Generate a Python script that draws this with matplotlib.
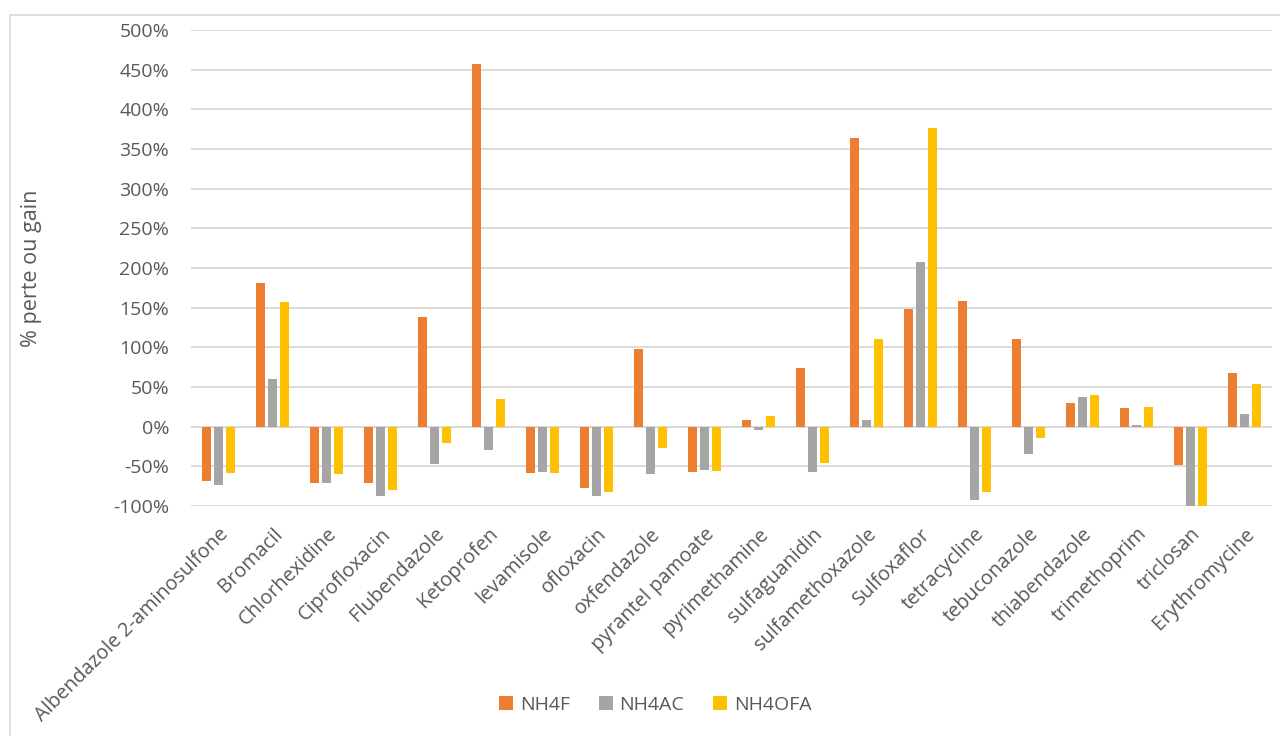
import numpy as np
import matplotlib.pyplot as plt
from matplotlib.patches import Rectangle
from matplotlib.ticker import FuncFormatter, MultipleLocator

plt.rcParams['font.family'] = ['Open Sans', 'DejaVu Sans']

# données (% perte ou gain)
composes = ["Albendazole 2-aminosulfone", "Bromacil", "Chlorhexidine", "Ciprofloxacin",
            "Flubendazole", "Ketoprofen", "levamisole", "ofloxacin", "oxfendazole",
            "pyrantel pamoate", "pyrimethamine", "sulfaguanidin", "sulfamethoxazole",
            "Sulfoxaflor", "tetracycline", "tebuconazole", "thiabendazole",
            "trimethoprim", "triclosan", "Erythromycine"]
nh4f = [-69, 181, -71, -71, 138, 457, -59, -77, 98, -57,
        8, 74, 364, 149, 159, 110, 30, 24, -48, 68]
nh4ac = [-74, 60, -71, -88, -47, -29, -57, -88, -60, -55,
         -4, -57, 9, 208, -92, -35, 38, 2, -100, 16]
nh4ofa = [-58, 157, -60, -80, -21, 35, -59, -82, -27, -56,
          13, -46, 110, 377, -82, -14, 40, 25, -100, 54]
series = ["NH4F", "NH4AC", "NH4OFA"]
couleurs = ["#ED7D31", "#A5A5A5", "#FFC000"]

gris_texte = "#595959"
taille = 14

fig = plt.figure(figsize=(12.8, 7.36), dpi=100)
ax = fig.add_axes([0.1496, 0.3125, 0.8438, 0.6465])

x = np.arange(len(composes))
largeur = 0.167
decalage = 0.222
for i, (vals, nom, c) in enumerate(zip([nh4f, nh4ac, nh4ofa], series, couleurs)):
    ax.bar(x + (i - 1) * decalage, vals, width=largeur, color=c, label=nom, zorder=3)

ax.set_xlim(-0.5, len(composes) - 0.5)
ax.set_ylim(-100, 500)
ax.yaxis.set_major_locator(MultipleLocator(50))
ax.yaxis.set_major_formatter(FuncFormatter(lambda v, p: f"{v:.0f}%"))
ax.grid(axis="y", color="#D9D9D9", linewidth=1.3, zorder=0)
ax.axhline(0, color="#D9D9D9", linewidth=1.3, zorder=1)
for s in ax.spines.values():
    s.set_visible(False)
ax.tick_params(axis="both", length=0, colors=gris_texte, labelsize=taille)
ax.tick_params(axis="y", pad=16)
ax.set_xticks(x)
ax.set_xticklabels(composes, rotation=45, ha="right", va="top", rotation_mode="anchor",
                   fontsize=taille + 0.3)
ax.tick_params(axis="x", pad=13)

# titre de l'axe vertical
fig.text(32 / 1280, 1 - 268 / 736, "% perte ou gain", rotation=90, ha="center", va="center",
         color=gris_texte, fontsize=taille + 1.5)

ax.legend(loc="center", bbox_to_anchor=(0.512, 0.042), bbox_transform=fig.transFigure,
          ncol=3, frameon=False, fontsize=taille, labelcolor=gris_texte,
          handlelength=0.7, handleheight=0.7, handletextpad=0.35, columnspacing=1.5)

# cadre de la zone du graphique
fig.patches.append(Rectangle((10 / 1280, -0.01), 1.0, 1 - 15 / 736 + 0.01,
                             transform=fig.transFigure, fill=False,
                             edgecolor="#D9D9D9", linewidth=1.2))

fig.savefig("out.png", dpi=100)
